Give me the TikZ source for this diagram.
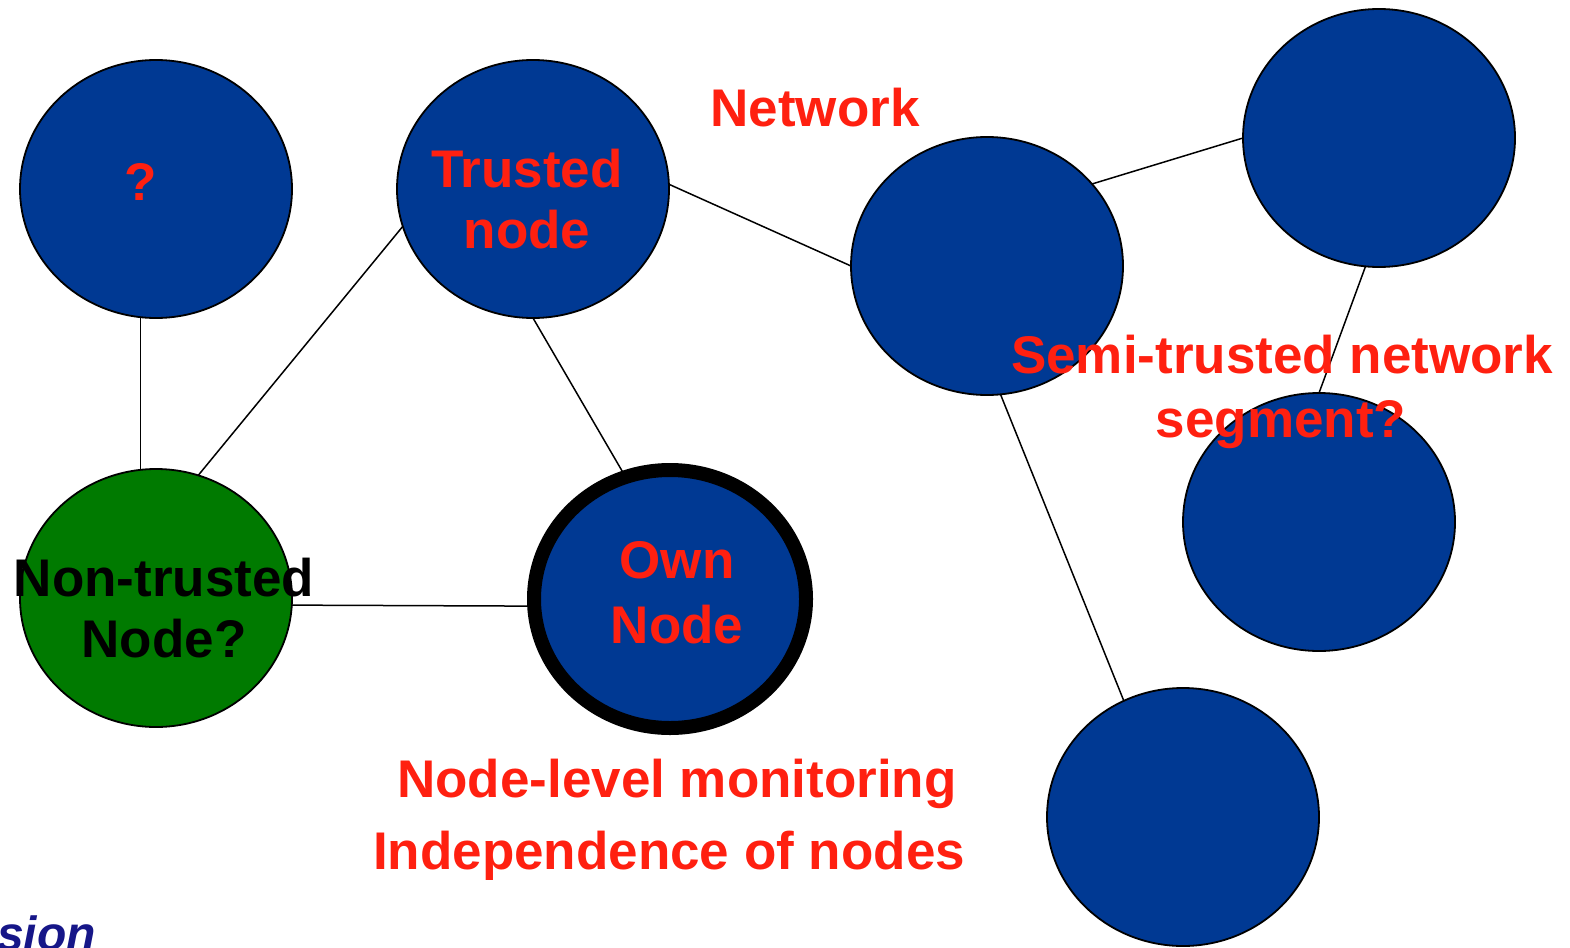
\documentclass[tikz,border=0pt]{standalone}
\usepackage{fontspec}
\setmainfont{Liberation Sans}
\usetikzlibrary{shapes.geometric,backgrounds}

\definecolor{nodeblue}{RGB}{0,57,147}
\definecolor{nodegreen}{RGB}{0,122,0}
\definecolor{labelred}{RGB}{255,32,16}
\definecolor{titlenavy}{RGB}{22,22,136}

\tikzset{
  netnode/.style={ellipse, draw=black, line width=1.8pt, fill=nodeblue,
    minimum width=272pt, minimum height=258pt, inner sep=0pt, outer sep=0pt},
  ownnode/.style={netnode, line width=14pt},
  untrusted/.style={netnode, fill=nodegreen},
  link/.style={draw=black, line width=1.5pt},
  redlabel/.style={text=labelred, font=\bfseries\fontsize{53}{64}\selectfont,
    inner sep=0pt, anchor=base},
  blacklabel/.style={redlabel, text=black},
}

\begin{document}
\begin{tikzpicture}[x=1pt, y=-1pt]
  \useasboundingbox (0,0) rectangle (1570,947);

  % nodes of the network
  \node[netnode]   (q)     at (156,189)  {};
  \node[netnode]   (trust) at (533,189)  {};
  \node[netnode]   (mid)   at (987,266)  {};
  \node[netnode]   (tr)    at (1379,138) {};
  \node[netnode]   (rm)    at (1319,522) {};
  \node[netnode]   (br)    at (1183,817) {};
  \node[untrusted] (green) at (156,598)  {};
  \node[ownnode]   (own)   at (670,599)  {};

  % links between nodes, kept behind the discs
  \begin{scope}[on background layer]
    \draw[link] (q.263)     -- (green.97);
    \draw[link] (trust.196) -- (green.71);
    \draw[link] (trust.270) -- (own.110);
    \draw[link] (trust.2)   -- (mid.180);
    \draw[link] (mid.38)    -- (tr.180);
    \draw[link] (tr.264)    -- (rm.90);
    \draw[link] (mid.276)   -- (br.117);
    \draw[link] (green.-3)  -- (own.183);
  \end{scope}

  % labels
  \node[redlabel] (qlbl)    at (141,200)  {?};
  \node[redlabel] (trust1)  at (527,187)  {Trusted};
  \node[redlabel] (trust2)  at (527,248)  {node};
  \node[redlabel] (netlbl)  at (815,127)  {Network};
  \node[redlabel] (own1)    at (677,578)  {Own};
  \node[redlabel] (own2)    at (677,643)  {Node};
  \node[blacklabel] (non1)  at (164,596)  {Non-trusted};
  \node[blacklabel] (non2)  at (164,657)  {Node?};
  \node[redlabel] (semi1)   at (1282,373) {Semi-trusted network};
  \node[redlabel] (semi2)   at (1281,437) {segment?};
  \node[redlabel] (mon1)    at (677,797)  {Node-level monitoring};
  \node[redlabel] (mon2)    at (669,869)  {Independence of nodes};

  % heading text running off the lower left edge
  \node[text=titlenavy, font=\bfseries\itshape\fontsize{48}{58}\selectfont,
        inner sep=0pt, anchor=base east] (sion) at (96,950) {sion};
\end{tikzpicture}
\end{document}
